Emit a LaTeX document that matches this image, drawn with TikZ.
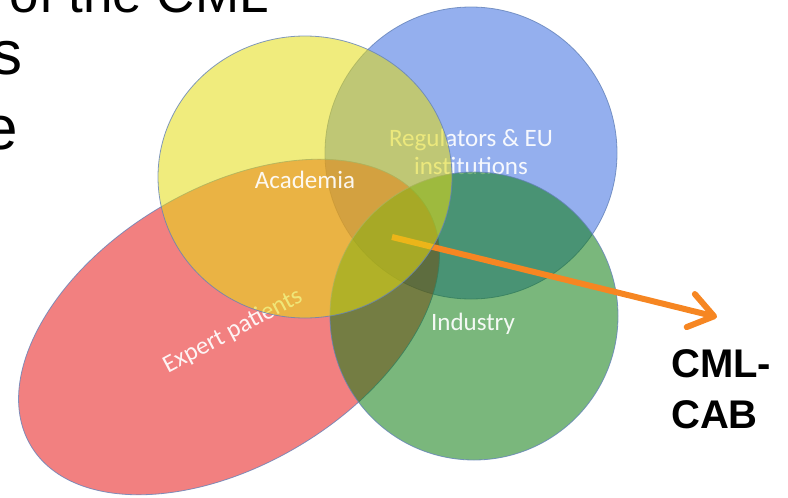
\documentclass[tikz,border=0pt]{standalone}
\usepackage{fontspec}
\setmainfont{Liberation Sans}
\newfontfamily\labelfont{Carlito}
\usetikzlibrary{arrows.meta, positioning, shapes.geometric}

\definecolor{acadyellow}{RGB}{228,220,19}
\definecolor{regblue}{RGB}{60,110,224}
\definecolor{patred}{RGB}{231,24,24}
\definecolor{indgreen}{RGB}{13,124,17}
\definecolor{setline}{RGB}{100,130,185}
\definecolor{cabarrow}{RGB}{246,134,34}

\begin{document}
\begin{tikzpicture}[x=1pt,y=-1pt,
                    set node/.style={ellipse,draw=setline,line width=0.8pt,draw opacity=0.8,fill opacity=0.55,inner sep=0pt},
                    set label/.style={font=\labelfont\fontsize{25}{28}\selectfont,text=white,text opacity=0.92,align=center,inner sep=0pt},
                    slide text/.style={font=\fontsize{62}{75}\selectfont,anchor=base east,inner sep=0pt},
                    cab flow/.style={draw=cabarrow,line width=6pt,-{Straight Barb[length=24pt,width=34pt,round]}}]
    \useasboundingbox (0,0) rectangle (788,498);

    \node[set node,fill=regblue,minimum width=292pt,minimum height=292pt] (regulators) at (471,153) {};
    \node[set label] (regulators label) at (471,152) {Regulators \& EU\\institutions};

    \node[set node,fill=patred,minimum width=462pt,minimum height=276pt,rotate=31] (patients) at (229,327) {};
    \node[set label,anchor=base,rotate=28] (patients label) at (236,337) {Expert patients};

    \node[set node,fill=indgreen,minimum width=288pt,minimum height=288pt] (industry) at (474,316) {};
    \node[set label,anchor=base] (industry label) at (473,330) {Industry};

    \coordinate (core) at (392,237);
    \coordinate (cab tip) at (717,317);
    \draw[cab flow] (core) -- (cab tip);

    \node[set node,fill=acadyellow,minimum width=294pt,minimum height=282pt] (academia) at (305,177) {};
    \node[set label,anchor=base] (academia label) at (305,188) {Academia};

    \node[font=\bfseries\fontsize{40}{51}\selectfont,align=left,anchor=north west,inner sep=0pt] (cab) at (671,349) {CML-\\CAB};

    \node[slide text,font=\fontsize{53}{75}\selectfont] (line1) at (269,12.5) {of the CML};
    \node[slide text] (line2) at (22.5,74) {s};
    \node[slide text] (line3) at (18.5,149) {e};
\end{tikzpicture}
\end{document}
